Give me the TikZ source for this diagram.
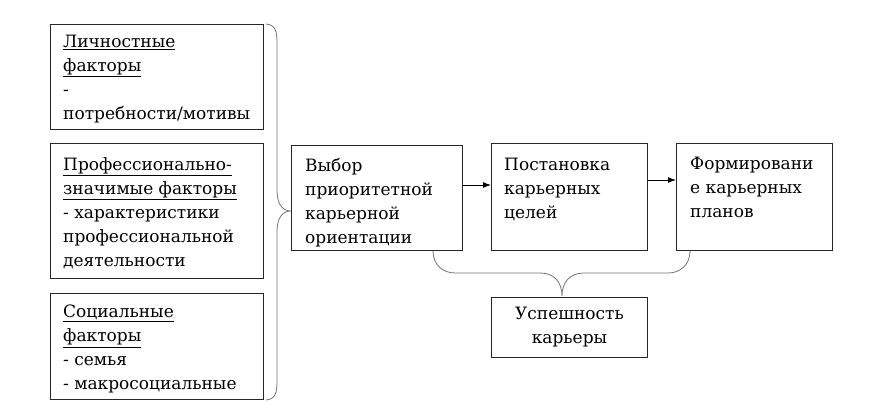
\documentclass[tikz,border=0pt]{standalone}
\usepackage{fontspec}
\setmainfont{DejaVu Serif}
\usetikzlibrary{arrows.meta}

\begin{document}
\begin{tikzpicture}[x=1pt,y=-1pt,
  box/.style={draw=black!85, line width=1pt, anchor=north west, inner sep=0pt},
  txt/.style={anchor=north west, align=left, inner sep=0pt, font=\fontsize{17}{24}\selectfont},
  brace/.style={draw=black!55, line width=0.8pt},
  arr/.style={-{Latex[length=8pt,width=6pt]}, line width=1pt}]
\useasboundingbox (0,0) rectangle (881,420);
% factors
\node[box, minimum width=213pt, minimum height=105pt] (lich) at (50,24) {};
\node[txt] (licht) at ([xshift=13pt,yshift=-11pt]lich.north west)
  {\underline{Личностные}\\ \underline{факторы}\\ -\\ потребности/мотивы};
\node[box, minimum width=213pt, minimum height=135pt] (prof) at (50,143) {};
\node[txt] (proft) at ([xshift=13pt,yshift=-14pt]prof.north west)
  {\underline{Профессионально-}\\ \underline{значимые факторы}\\ - характеристики\\ профессиональной\\ деятельности};
\node[box, minimum width=213pt, minimum height=106pt] (soc) at (50,293) {};
\node[txt] (soct) at ([xshift=13pt,yshift=-12pt]soc.north west)
  {\underline{Социальные}\\ \underline{факторы}\\ - семья\\ - макросоциальные};
% career steps
\node[box, minimum width=171pt, minimum height=105pt] (vyb) at (291,145) {};
\node[txt] (vybt) at ([xshift=14pt,yshift=-13pt]vyb.north west)
  {Выбор\\ приоритетной\\ карьерной\\ ориентации};
\node[box, minimum width=156pt, minimum height=107pt] (post) at (491,143) {};
\node[txt] (postt) at ([xshift=13pt,yshift=-15pt]post.north west)
  {Постановка\\ карьерных\\ целей};
\node[box, minimum width=156pt, minimum height=107pt] (form) at (676,143) {};
\node[txt] (formt) at ([xshift=14pt,yshift=-14pt]form.north west)
  {Формировани\\ е карьерных\\ планов};
\node[box, minimum width=156pt, minimum height=60pt] (usp) at (491,297) {};
\node[txt, anchor=center, align=center] (uspt) at (usp.center) {Успешность\\ карьеры};
% arrows
\draw[arr] (vyb.east |- 0,185) -- (post.west |- 0,185);
\draw[arr] (post.east |- 0,180) -- (form.west |- 0,180);
% braces
\coordinate (lbr) at (vyb.west |- 0,211);
\coordinate (ubr) at (562,296);
\draw[brace] ([xshift=2pt]lich.north east) .. controls +(10,1) and +(0,-12) .. (277,44)
  -- (277,190) .. controls +(0,15) and +(-8,0) .. (lbr)
  .. controls +(-8,0) and +(0,-15) .. (277,232)
  -- (277,380) .. controls +(0,12) and +(10,-1) .. ([xshift=2pt]soc.south east);
\draw[brace] (433,0 |- vyb.south) .. controls +(0,14) and +(-12,0) .. (455,273)
  -- (540,273) .. controls +(14,0) and +(0,-14) .. (ubr)
  .. controls +(0,-14) and +(-14,0) .. (584,273)
  -- (668,273) .. controls +(12,0) and +(0,14) .. (690,0 |- form.south);
\end{tikzpicture}
\end{document}
